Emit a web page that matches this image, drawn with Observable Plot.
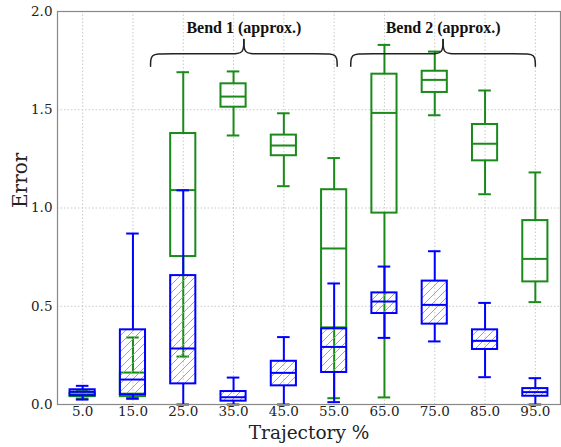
<!DOCTYPE html>
<html>
<head>
<meta charset="utf-8">
<script src="https://cdn.jsdelivr.net/npm/d3@7"></script>
<script src="https://cdn.jsdelivr.net/npm/@observablehq/plot@0.6"></script>
<style>
  html, body { margin: 0; padding: 0; background: #fff; }
</style>
</head>
<body>
<div id="chart"></div>
<script>
// Trajectory positions (percent along the path)
const trajectory = [5, 15, 25, 35, 45, 55, 65, 75, 85, 95];

// Hatched (blue) series: whisker low, Q1, median, Q3, whisker high
const blueLow  = [0.025, 0.029, 0.000, 0.000, 0.000, 0.012, 0.339, 0.321, 0.139, 0.000];
const blueQ1   = [0.045, 0.049, 0.105, 0.017, 0.095, 0.163, 0.463, 0.409, 0.280, 0.042];
const blueMed  = [0.065, 0.127, 0.285, 0.037, 0.161, 0.293, 0.524, 0.507, 0.324, 0.063];
const blueQ3   = [0.075, 0.380, 0.656, 0.066, 0.220, 0.385, 0.568, 0.628, 0.380, 0.081];
const blueHigh = [0.095, 0.870, 1.090, 0.137, 0.343, 0.616, 0.702, 0.780, 0.517, 0.134];

// Open (green) series
const greenLow  = [0.030, 0.035, 0.244, 1.369, 1.111, 0.032, 0.036, 1.472, 1.070, 0.521];
const greenQ1   = [0.040, 0.040, 0.753, 1.513, 1.266, 0.390, 0.974, 1.588, 1.240, 0.624];
const greenMed  = [0.050, 0.055, 1.091, 1.567, 1.318, 0.794, 1.484, 1.652, 1.327, 0.741];
const greenQ3   = [0.058, 0.160, 1.379, 1.632, 1.371, 1.093, 1.681, 1.696, 1.425, 0.936];
const greenHigh = [0.068, 0.341, 1.691, 1.695, 1.482, 1.254, 1.830, 1.796, 1.598, 1.181];

// Tick values
const xTicks = [5, 15, 25, 35, 45, 55, 65, 75, 85, 95];
const yTicks = [0, 0.5, 1, 1.5, 2];

// Bracketed annotations above the plot
const braceLabels = ["Bend 1 (approx.)", "Bend 2 (approx.)"];
const braceStart  = [18.5, 58.3];
const braceEnd    = [55.6, 95.0];

const BLUE = "#0000ff";
const GREEN = "#1a8a1a";
const boxHalf = 2.5;   // half of box width in x units
const capHalf = 1.25;  // half of whisker cap width

function series(low, q1, med, q3, high) {
  return trajectory.map((t, i) => ({t, low: low[i], q1: q1[i], med: med[i], q3: q3[i], high: high[i]}));
}
const blue = series(blueLow, blueQ1, blueMed, blueQ3, blueHigh);
const green = series(greenLow, greenQ1, greenMed, greenQ3, greenHigh);

function boxMarks(data, color, fill) {
  const sw = 2;
  return [
    Plot.ruleX(data, {x: "t", y1: "low", y2: "q1", stroke: color, strokeWidth: sw}),
    Plot.ruleX(data, {x: "t", y1: "q3", y2: "high", stroke: color, strokeWidth: sw}),
    Plot.ruleY(data, {y: "low", x1: d => d.t - capHalf, x2: d => d.t + capHalf, stroke: color, strokeWidth: sw}),
    Plot.ruleY(data, {y: "high", x1: d => d.t - capHalf, x2: d => d.t + capHalf, stroke: color, strokeWidth: sw}),
    Plot.rect(data, {x1: d => d.t - boxHalf, x2: d => d.t + boxHalf, y1: "q1", y2: "q3",
      fill, stroke: color, strokeWidth: sw}),
    Plot.ruleY(data, {y: "med", x1: d => d.t - boxHalf, x2: d => d.t + boxHalf, stroke: color, strokeWidth: sw})
  ];
}

// Curly brace outline: two halves meeting at an upward tip
const yEnd = 1.722, yFlat = 1.785, yTip = 1.857;
const bracePts = [];
braceStart.forEach((x0, i) => {
  const x1 = braceEnd[i], xm = (x0 + x1) / 2;
  const d = 2.6, d2 = 2.2;
  const left = [[x0, yEnd], [x0, yFlat], [x0 + d, yFlat], [xm - d2, yFlat], [xm, yFlat], [xm, yTip]];
  const right = [[x1, yEnd], [x1, yFlat], [x1 - d, yFlat], [xm + d2, yFlat], [xm, yFlat], [xm, yTip]];
  left.forEach(([x, y]) => bracePts.push({x, y, z: i + "L"}));
  right.forEach(([x, y]) => bracePts.push({x, y, z: i + "R"}));
});
const braceText = braceLabels.map((label, i) => ({label, x: (braceStart[i] + braceEnd[i]) / 2}));

const chart = Plot.plot({
  width: 561,
  height: 447,
  marginLeft: 57,
  marginRight: 1,
  marginTop: 11,
  marginBottom: 43,
  style: {fontFamily: "'DejaVu Serif', serif", fontSize: "13.5px", color: "#222", background: "#fff"},
  x: {domain: [0, 100], ticks: xTicks, tickFormat: d => d.toFixed(1), tickSize: 0, tickPadding: 2, label: null},
  y: {domain: [0, 2], ticks: yTicks, tickFormat: d => d.toFixed(1), tickSize: 0, tickPadding: 5, label: null},
  marks: [
    Plot.ruleX(xTicks, {stroke: "#c8c8c8", strokeDasharray: "1.5,2"}),
    Plot.ruleY(yTicks, {stroke: "#c8c8c8", strokeDasharray: "1.5,2"}),
    ...boxMarks(green, GREEN, "none"),
    ...boxMarks(blue, BLUE, "url(#hatch)"),
    Plot.line(bracePts, {x: "x", y: "y", z: "z", curve: "basis", stroke: "#222", strokeWidth: 1.5}),
    Plot.text(braceText, {x: "x", y: 1.893, text: "label", lineAnchor: "bottom",
      fontFamily: "'Liberation Serif', 'Times New Roman', serif", fontWeight: "bold", fontSize: 16, fill: "#111"}),
    Plot.frame({stroke: "#888", strokeWidth: 1.2}),
    Plot.text(["Trajectory %"], {frameAnchor: "bottom", dy: 34, fontSize: 18.5, fill: "#222"}),
    Plot.text(["Error"], {frameAnchor: "left", dx: -37, rotate: -90, fontSize: 20, fill: "#222"})
  ]
});

// Diagonal hatch used by the blue boxes
const defs = d3.select(chart).insert("defs", ":first-child");
const pat = defs.append("pattern")
  .attr("id", "hatch")
  .attr("patternUnits", "userSpaceOnUse")
  .attr("width", 8)
  .attr("height", 8);
pat.append("path")
  .attr("d", "M-2,2 L2,-2 M0,8 L8,0 M6,10 L10,6")
  .attr("stroke", "#9090ee")
  .attr("stroke-width", 0.9);

document.getElementById("chart").appendChild(chart);
</script>
</body>
</html>
